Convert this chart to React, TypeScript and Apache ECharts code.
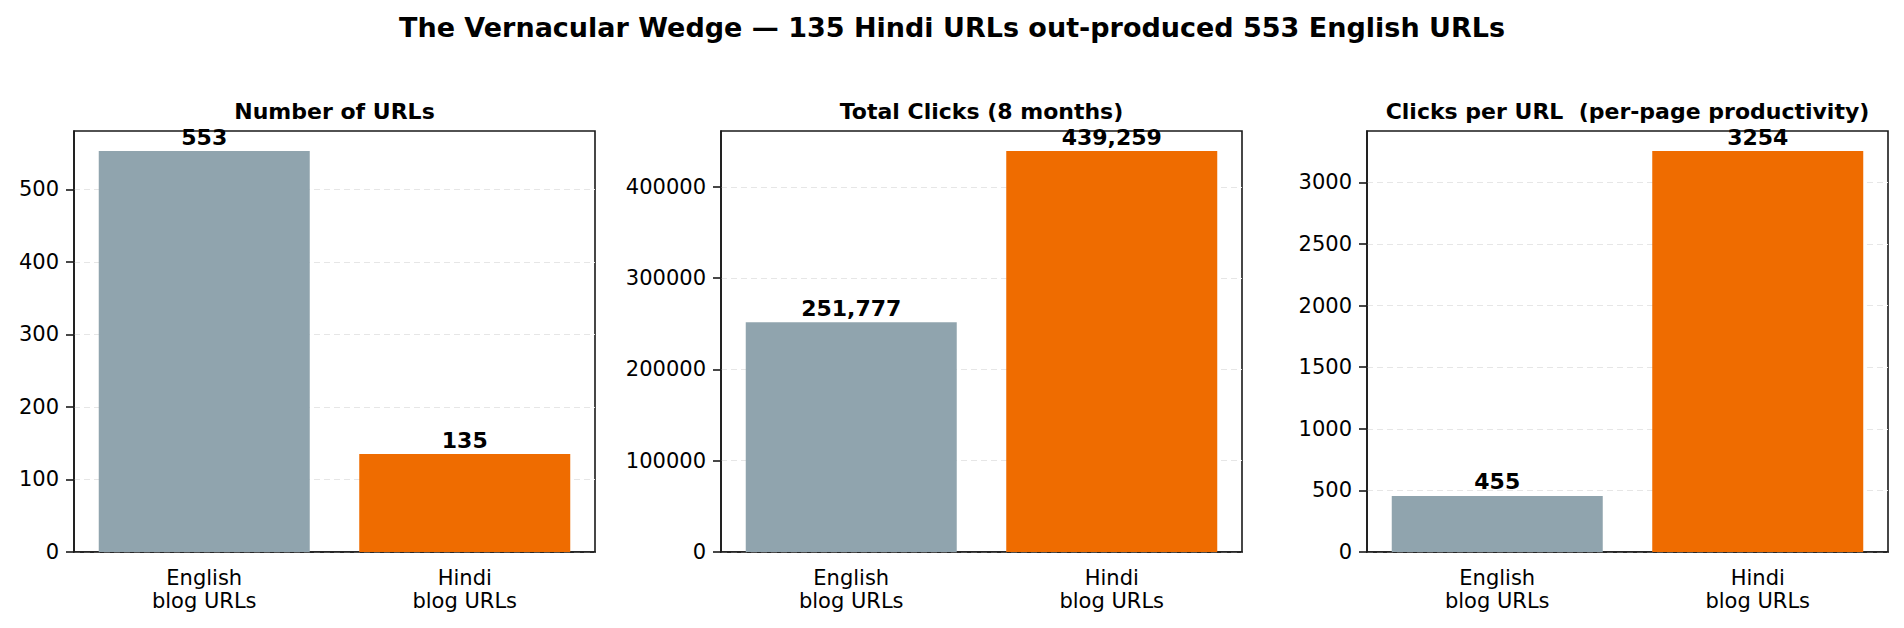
import { useEffect, useRef } from 'react';
import * as echarts from 'echarts';

const categories = ['English\nblog URLs', 'Hindi\nblog URLs'];
const urlCounts = [553, 135];
const totalClicks = [251777, 439259];
const clicksPerUrl = [455.3, 3253.8];

const urlTicks = [0, 100, 200, 300, 400, 500];
const clickTicks = [0, 100000, 200000, 300000, 400000];
const perUrlTicks = [0, 500, 1000, 1500, 2000, 2500, 3000];

const panelTitles = ['Number of URLs', 'Total Clicks (8 months)', 'Clicks per URL  (per-page productivity)'];
const mainTitle = 'The Vernacular Wedge \u2014 135 Hindi URLs out-produced 553 English URLs';

const barColors = ['#90A4AE', '#EF6C00'];
const FONT = 'DejaVu Sans';

const gridLefts = [74, 721, 1367];
const GRID_TOP = 131;
const GRID_W = 521;
const GRID_H = 421;

const panels = [
    { values: urlCounts, ticks: urlTicks, fmt: (v: number) => String(Math.round(v)) },
    { values: totalClicks, ticks: clickTicks, fmt: (v: number) => Math.round(v).toLocaleString('en-US') },
    { values: clicksPerUrl, ticks: perUrlTicks, fmt: (v: number) => String(Math.round(v)) },
];

export default function App() {
    const chartRef = useRef<HTMLDivElement>(null);

    useEffect(() => {
        const myChart = echarts.init(chartRef.current, null, { renderer: 'svg' });

        myChart.setOption({
            animation: false,
            textStyle: { fontFamily: FONT, color: '#000' },
            grid: gridLefts.map((left) => ({
                left,
                top: GRID_TOP,
                width: GRID_W,
                height: GRID_H,
                show: true,
                borderColor: '#1a1a1a',
                borderWidth: 1.6,
                backgroundColor: 'transparent',
            })),
            xAxis: panels.map((_, i) => ({
                type: 'category',
                gridIndex: i,
                data: categories,
                axisLine: { lineStyle: { color: '#1a1a1a', width: 1.6 } },
                axisTick: { alignWithLabel: true, length: 8, lineStyle: { color: '#1a1a1a', width: 1.6 } },
                axisLabel: { fontFamily: FONT, fontSize: 21, color: '#000', margin: 14, lineHeight: 23 },
            })),
            yAxis: panels.map((p, i) => ({
                type: 'value',
                gridIndex: i,
                min: 0,
                max: Math.max(...p.values) * 1.05,
                axisLine: { show: true, lineStyle: { color: '#1a1a1a', width: 1.6 } },
                axisTick: { show: true, length: 8, customValues: p.ticks, lineStyle: { color: '#1a1a1a', width: 1.6 } },
                axisLabel: {
                    fontFamily: FONT,
                    fontSize: 21,
                    color: '#000',
                    margin: 15,
                    customValues: p.ticks,
                    formatter: (v: number) => String(v),
                },
                splitLine: { show: true, lineStyle: { color: '#e6e6e6', type: [6, 4], width: 1.2 } },
            })),
            graphic: [
                {
                    type: 'text',
                    x: 952,
                    y: 27,
                    style: {
                        text: mainTitle,
                        fontFamily: FONT,
                        fontSize: 27,
                        fontWeight: 'bold',
                        fill: '#000',
                        textAlign: 'center',
                        textVerticalAlign: 'middle',
                    },
                },
                ...panelTitles.map((t, i) => ({
                    type: 'text',
                    x: gridLefts[i] + GRID_W / 2,
                    y: 111,
                    style: {
                        text: t,
                        fontFamily: FONT,
                        fontSize: 22,
                        fontWeight: 'bold',
                        fill: '#000',
                        textAlign: 'center',
                        textVerticalAlign: 'middle',
                    },
                })),
            ],
            series: panels.map((p, i) => ({
                type: 'bar',
                xAxisIndex: i,
                yAxisIndex: i,
                barWidth: '81%',
                data: p.values.map((v, j) => ({ value: v, itemStyle: { color: barColors[j] } })),
                label: {
                    show: true,
                    position: 'top',
                    distance: 3,
                    fontFamily: FONT,
                    fontSize: 22,
                    fontWeight: 'bold',
                    color: '#000',
                    formatter: (d: any) => p.fmt(d.value),
                },
            })),
        });

        return () => {
            myChart.dispose();
        };
    }, []);

    return (
        <div
            ref={chartRef}
            style={{ position: 'fixed', left: 0, top: 0, width: '1904px', height: '628px', background: '#fff' }}
        />
    );
}
